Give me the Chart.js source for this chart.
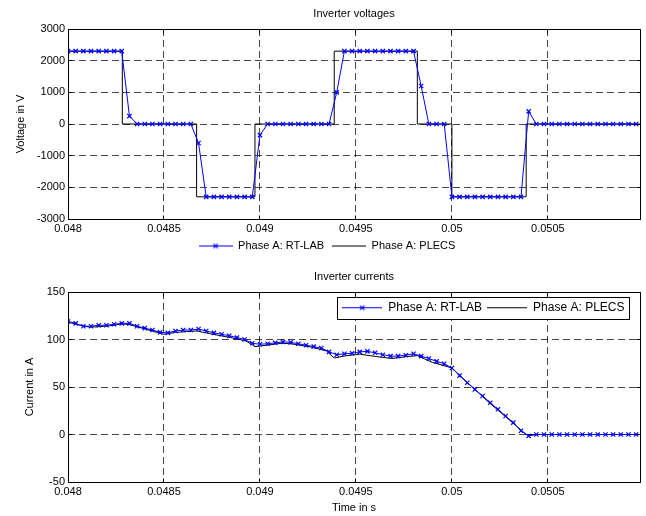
<!DOCTYPE html>
<html>
<head>
<meta charset="utf-8">
<script src="https://cdn.jsdelivr.net/npm/chart.js@4.4.1/dist/chart.umd.min.js"></script>
<style>
  html, body { margin: 0; padding: 0; background: #fff; }
  #page { position: relative; width: 646px; height: 516px; }
  canvas { position: absolute; left: 0; }
  #voltChart { top: 0; }
  #currChart { top: 258px; }
</style>
</head>
<body>
<div id="page">
  <canvas id="voltChart" width="646" height="258"></canvas>
  <canvas id="currChart" width="646" height="258"></canvas>
</div>
<script>
// time axis (s)
const tStart = 0.048;
const tEnd = 0.05098;
const sampleStep = 0.00004;   // RT-LAB sample period, 40 us
const xTickStep = 0.0005;

const seriesNames = ["Phase A: RT-LAB", "Phase A: PLECS"];

// RT-LAB phase A voltage, one value per sample (V)
const rtlabVoltage = [
  2300, 2300, 2300, 2300, 2300, 2300, 2300, 2300, 250,
  0, 0, 0, 0, 0, 0, 0, 0, -600,
  -2300, -2300, -2300, -2300, -2300, -2300, -2300, -350,
  0, 0, 0, 0, 0, 0, 0, 0, 0, 1000,
  2300, 2300, 2300, 2300, 2300, 2300, 2300, 2300, 2300, 2300, 1200,
  0, 0, 0,
  -2300, -2300, -2300, -2300, -2300, -2300, -2300, -2300, -2300, -2300, 400,
  0, 0, 0, 0, 0, 0, 0, 0, 0, 0, 0, 0, 0, 0
];

// PLECS phase A voltage: switching instants (s) and level held after each (V)
const plecsVoltTimes  = [0.048, 0.048283, 0.04867, 0.048974, 0.049387, 0.04982, 0.05, 0.050387, 0.05098];
const plecsVoltLevels = [2300, 0, -2300, 0, 2300, 0, -2300, 0, 0];

// RT-LAB phase A current, one value per sample (A)
const rtlabCurrent = [
  119, 117, 114, 114, 115, 115, 116, 117, 117, 114,
  112, 110, 107.5, 107, 109, 110, 110, 111, 109, 107,
  105.5, 104, 102, 100, 96, 95, 95.5, 96.5, 97.5, 97,
  95.5, 94, 92.5, 91, 87, 84, 85, 85.5, 87, 87.5,
  86, 84, 82.5, 82.5, 83.5, 85, 82.5, 80, 77, 74.5,
  70, 62, 54.5, 47.5, 40.5, 33.5, 26.5, 19.5, 12.5, 4,
  -1.5, 0, 0, 0, 0, 0, 0, 0, 0, 0, 0, 0, 0, 0, 0
];

// PLECS phase A current (s, A)
const plecsCurrTimes = [
  0.048, 0.048061, 0.048114, 0.048166, 0.048219, 0.048283, 0.048324, 0.048402, 0.0485, 0.04856,
  0.04867, 0.048743, 0.048848, 0.048927, 0.048974, 0.049016, 0.04911, 0.049163, 0.049268, 0.049346,
  0.049387, 0.049451, 0.04952, 0.049609, 0.049687, 0.049766, 0.04982, 0.049897, 0.04995, 0.05,
  0.050186, 0.050364, 0.050387, 0.05098
];
const plecsCurrValues = [
  118.5, 115, 113, 113.5, 114.5, 116.5, 115.5, 111, 105.5, 107.5,
  109, 106, 102, 98.5, 92.5, 93.5, 96, 95.5, 92, 88,
  80.5, 83, 84.5, 82, 80, 82, 83, 76, 73, 70,
  35, 4, 0, 0
];

const voltTicks = { min: -3000, max: 3000, step: 1000 };
const currTicks = { min: -50, max: 150, step: 50 };

const FONT = "'Liberation Sans', Arial, Helvetica, sans-serif";
Chart.defaults.font.family = FONT;
Chart.defaults.font.size = 11;
Chart.defaults.color = '#000';

const gridColor = 'rgba(0,0,0,0.72)';
const blue = '#0000ff';

const sampled = vals => vals.map((v, i) => ({ x: tStart + i * sampleStep, y: v }));
const paired = (ts, vs) => ts.map((t, i) => ({ x: t, y: vs[i] }));

// small line sample (with optional x marker) used as the legend symbol
function legendSample(width, color, marker) {
  const c = document.createElement('canvas');
  c.width = width; c.height = 9;
  const g = c.getContext('2d');
  g.strokeStyle = color; g.lineWidth = 1;
  g.beginPath(); g.moveTo(0, 4.5); g.lineTo(width, 4.5); g.stroke();
  if (marker) {
    const m = Math.round(width / 2), r = 2.2;
    g.lineWidth = 1.2;
    g.beginPath();
    g.moveTo(m - r, 4.5 - r); g.lineTo(m + r, 4.5 + r);
    g.moveTo(m - r, 4.5 + r); g.lineTo(m + r, 4.5 - r);
    g.stroke();
  }
  return c;
}

function labelsWithSamples(width) {
  const imgs = [legendSample(width, blue, true), legendSample(width, '#000', false)];
  return chart => Chart.defaults.plugins.legend.labels.generateLabels(chart)
    .map(l => Object.assign(l, { pointStyle: imgs[l.datasetIndex], fontColor: '#000' }));
}

// MATLAB style box around the axes with inward ticks
const axesBox = {
  id: 'axesBox',
  afterDatasetsDraw(chart) {
    const { ctx, chartArea: a, scales } = chart;
    const L = Math.floor(a.left) + 0.5, R = Math.floor(a.right) + 0.5;
    const T = Math.floor(a.top) + 0.5, B = Math.floor(a.bottom) + 0.5;
    ctx.save();
    ctx.strokeStyle = '#000';
    ctx.lineWidth = 1;
    ctx.strokeRect(L, T, R - L, B - T);
    ctx.beginPath();
    scales.x.ticks.forEach(t => {
      const p = Math.floor(scales.x.getPixelForValue(t.value)) + 0.5;
      ctx.moveTo(p, B); ctx.lineTo(p, B - 4);
      ctx.moveTo(p, T); ctx.lineTo(p, T + 4);
    });
    scales.y.ticks.forEach(t => {
      const p = Math.floor(scales.y.getPixelForValue(t.value)) + 0.5;
      ctx.moveTo(L, p); ctx.lineTo(L + 4, p);
      ctx.moveTo(R, p); ctx.lineTo(R - 4, p);
    });
    ctx.stroke();
    ctx.restore();
  }
};

function xScale(height, titleText) {
  return {
    type: 'linear', min: tStart, max: tEnd,
    grid: { color: gridColor, drawTicks: false },
    border: { display: false, dash: [7, 4] },
    ticks: {
      stepSize: xTickStep, includeBounds: false, padding: 3.7, maxRotation: 0, autoSkip: false,
      callback: v => String(+v.toFixed(4))
    },
    title: titleText
      ? { display: true, text: titleText, font: { size: 11 }, padding: { top: 0, bottom: 1.1 } }
      : { display: false },
    afterFit: s => { s.height = height; }
  };
}

// page padding on the left is 14px, the y scale fills the rest up to x=68
function yScale(t, titleText, titlePad) {
  return {
    min: t.min, max: t.max,
    grid: { color: gridColor, drawTicks: false },
    border: { display: false, dash: [7, 4] },
    ticks: { stepSize: t.step, padding: 3, callback: v => String(v) },
    title: { display: true, text: titleText, font: { size: 11 }, padding: { top: titlePad, bottom: 0 } },
    afterFit: s => { s.width = 54; }
  };
}

const rtlabStyle = {
  borderColor: blue, backgroundColor: blue, borderWidth: 1,
  pointStyle: 'crossRot', pointRadius: 3, pointBorderWidth: 1.2, pointHoverRadius: 3,
  tension: 0
};
const plecsStyle = {
  borderColor: '#000', backgroundColor: '#000', borderWidth: 1,
  pointRadius: 0, pointHoverRadius: 0, tension: 0
};

// titles sit centred over the axes, not over the whole canvas
function axesTitle(text, padTop, padBottom) {
  return { display: true, fullSize: false, text, font: { size: 11, weight: 'normal' }, padding: { top: padTop, bottom: padBottom } };
}

// top: voltages
new Chart(document.getElementById('voltChart'), {
  type: 'line',
  data: {
    datasets: [
      Object.assign({ label: seriesNames[0], data: sampled(rtlabVoltage) }, rtlabStyle),
      // each level is held until the next switching instant
      Object.assign({ label: seriesNames[1], data: paired(plecsVoltTimes, plecsVoltLevels), stepped: 'before' }, plecsStyle)
    ]
  },
  options: {
    responsive: false, animation: false, events: [],
    layout: { padding: { left: 14, right: 6, top: 0, bottom: 0 } },
    scales: {
      x: xScale(13.5, null),
      y: yScale(voltTicks, 'Voltage in V', 0.2)
    },
    plugins: {
      title: axesTitle('Inverter voltages', 7.8, 8),
      legend: {
        position: 'bottom', maxHeight: 25.5,
        labels: { usePointStyle: true, pointStyleWidth: 34, padding: 8, font: { size: 11 }, generateLabels: labelsWithSamples(34) }
      },
      tooltip: { enabled: false }
    }
  },
  plugins: [axesBox]
});

// bottom: currents, legend boxed inside the axes (top right)
const legendFont = 12, legendPad = 5;
const insideLegend = {
  id: 'insideLegend',
  afterInit(chart) {
    const lg = chart.legend;
    const draw = lg.draw.bind(lg);
    lg.draw = function () {
      const c = chart.ctx;
      const x0 = Math.round(lg.left) + 0.5, y0 = Math.round(lg.top) + 0.5;
      const w = Math.round(lg.right - lg.left - 1), h = Math.round(lg.bottom - lg.top);
      c.save();
      c.fillStyle = '#fff';
      c.fillRect(x0, y0, w, h);
      c.strokeStyle = '#000'; c.lineWidth = 1;
      c.strokeRect(x0, y0, w, h);
      c.restore();
      draw();
    };
  },
  afterLayout(chart) {
    const lg = chart.legend, a = chart.chartArea;
    const w = lg.lineWidths[0] + legendPad;
    const h = legendFont + 2 * legendPad;
    lg.left = a.right - 11 - w; lg.right = lg.left + w + 1; lg.width = w + 1;
    lg.top = a.top + 4.7; lg.bottom = lg.top + h; lg.height = h;
  }
};

new Chart(document.getElementById('currChart'), {
  type: 'line',
  data: {
    datasets: [
      Object.assign({ label: seriesNames[0], data: sampled(rtlabCurrent) }, rtlabStyle),
      Object.assign({ label: seriesNames[1], data: paired(plecsCurrTimes, plecsCurrValues) }, plecsStyle)
    ]
  },
  options: {
    responsive: false, animation: false, events: [],
    layout: { padding: { left: 14, right: 6, top: 0, bottom: 0 } },
    scales: {
      x: xScale(34, 'Time in s'),
      y: yScale(currTicks, 'Current in A', 9.4)
    },
    plugins: {
      title: axesTitle('Inverter currents', 12.1, 7.7),
      legend: {
        position: 'top', maxHeight: 1,
        labels: { usePointStyle: true, pointStyleWidth: 40, padding: legendPad, font: { size: legendFont }, generateLabels: labelsWithSamples(40) }
      },
      tooltip: { enabled: false }
    }
  },
  plugins: [axesBox, insideLegend]
});
</script>
</body>
</html>
